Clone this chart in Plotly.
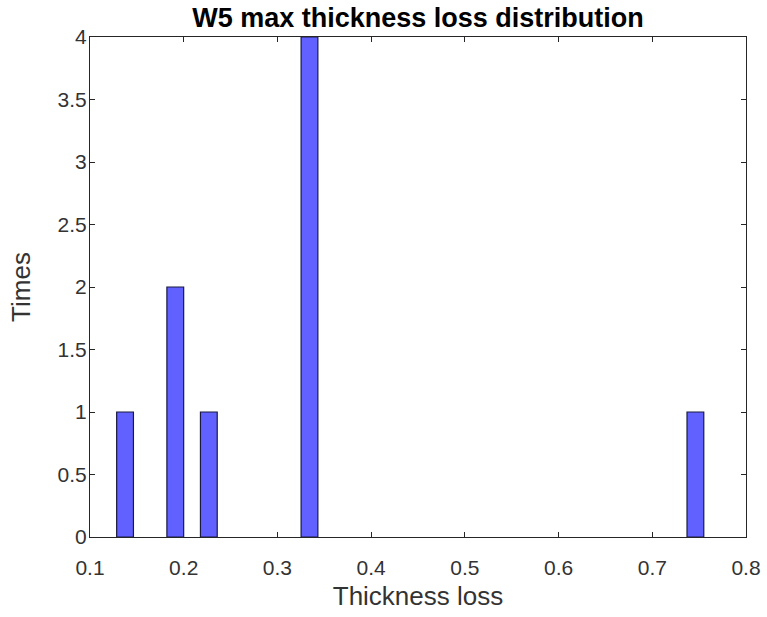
import plotly.graph_objects as go

# histogram bins that hold data (MATLAB-style histogram, bin width ~0.0179)
bin_width = 0.0179
bin_centers = [0.1374, 0.1910, 0.2268, 0.3342, 0.7460]
counts = [1, 2, 1, 4, 1]

x_ticks = [0.1, 0.2, 0.3, 0.4, 0.5, 0.6, 0.7, 0.8]
y_ticks = [0, 0.5, 1, 1.5, 2, 2.5, 3, 3.5, 4]

font_name = 'Liberation Sans, Arial'

fig = go.Figure()
fig.add_trace(go.Bar(
    x=bin_centers,
    y=counts,
    width=bin_width,
    marker=dict(color='#6161FF', line=dict(color='#1a1a40', width=1.2)),
))

axis_style = dict(
    showline=True, linecolor='#262626', linewidth=1, mirror='allticks',
    ticks='inside', ticklen=5, tickcolor='#262626',
    showgrid=False, zeroline=False, automargin=False,
    tickfont=dict(family=font_name, size=21, color='#333333'),
)

fig.update_layout(
    width=767, height=617,
    margin=dict(l=90, r=21, t=37, b=80),
    paper_bgcolor='white', plot_bgcolor='white',
    showlegend=False,
    title=dict(text='<b>W5 max thickness loss distribution</b>', x=0.5, xref='paper',
               xanchor='center', y=0.972, yref='container', yanchor='middle',
               font=dict(family=font_name, size=27, color='#000000')),
    xaxis=dict(axis_style, range=[0.1, 0.8], tickvals=x_ticks,
               ticktext=[f'{v:g}' for v in x_ticks], ticklabelstandoff=12,
               title=dict(text='Thickness loss', standoff=8,
                          font=dict(family=font_name, size=26, color='#333333'))),
    yaxis=dict(axis_style, range=[0, 4], tickvals=y_ticks,
               ticktext=[f'{v:g}' for v in y_ticks], ticklabelstandoff=-2,
               title=dict(text='Times', standoff=19,
                          font=dict(family=font_name, size=26, color='#333333'))),
)

# drop the default page margin so the figure fills the window exactly
fig.write_html("out.html", config={'displayModeBar': False},
               post_script="document.body.style.margin='0px';")
